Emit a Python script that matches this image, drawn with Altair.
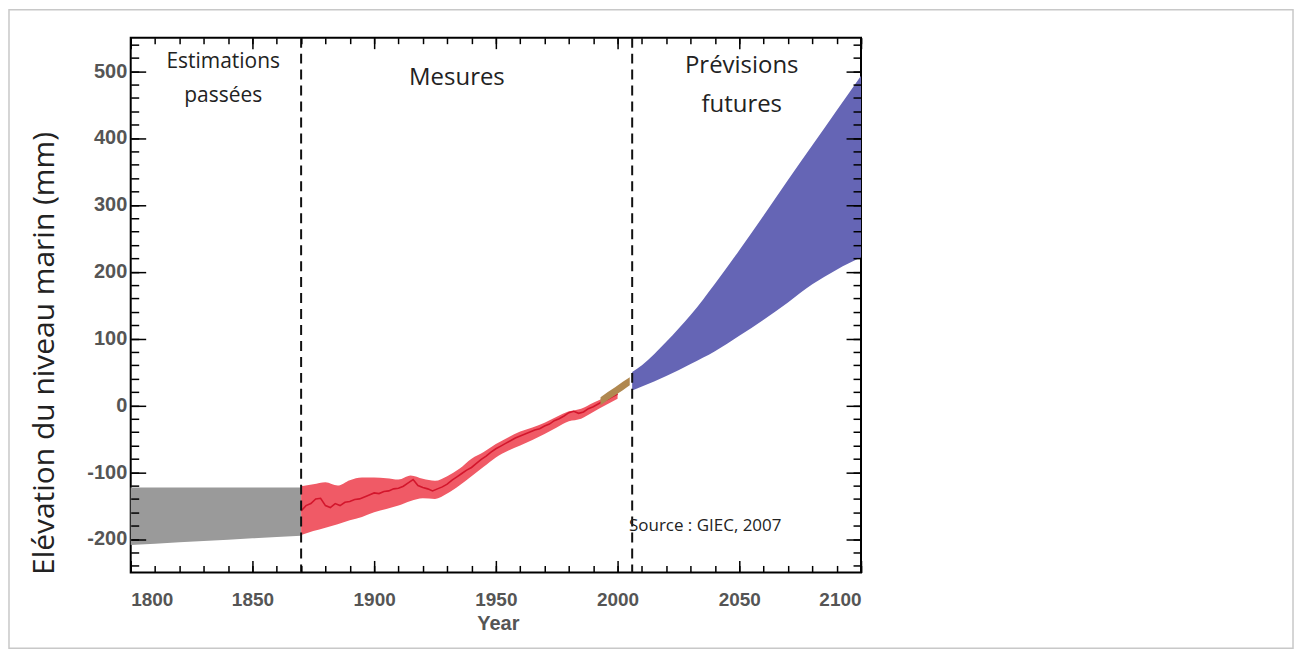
import altair as alt
import pandas as pd

# ---------------- data ----------------
gray_years = [1800, 1810, 1820, 1830, 1840, 1850, 1860, 1870]
gray_lo = [-209, -207, -205, -203, -201, -199, -197, -195]
gray_hi = [-123, -123, -123, -123, -123, -123, -123, -123]

band_years = [1870, 1875, 1880, 1885, 1890, 1895, 1900, 1905, 1910, 1915, 1920, 1925, 1930,
              1935, 1940, 1945, 1950, 1955, 1960, 1965, 1970, 1975, 1980, 1985, 1990, 1995, 2000]
band_hi = [-121, -118, -115, -120, -112, -108, -108, -109, -111, -105, -110, -113, -106,
           -95, -80, -70, -58, -48, -39, -33, -26, -17, -9, -5, 4, 12, 22]
band_lo = [-194, -188, -183, -178, -172, -167, -160, -155, -150, -143, -139, -140, -132,
           -120, -106, -92, -78, -68, -60, -52, -43, -33, -24, -20, -10, 0, 10]

line_years = list(range(1870, 2001, 2))
line_vals = [-158, -150, -147, -140, -139, -150, -153, -147, -150, -145, -144, -141, -140, -137,
             -134, -131, -132, -129, -128, -125, -124, -121, -116, -111, -120, -123, -125, -128,
             -125, -122, -118, -112, -107, -102, -97, -93, -87, -81, -76, -70, -65, -61, -57,
             -53, -49, -46, -43, -40, -37, -35, -31, -28, -23, -20, -16, -11, -9, -12, -10,
             -5, -2, 2, 6, 9, 13, 17]

sat_years = [1993, 1996, 1999, 2002, 2005]
sat_lo = [0, 8, 15, 22, 30]
sat_hi = [12, 20, 27, 35, 42]

proj_years = [2006, 2010, 2020, 2030, 2040, 2050, 2060, 2070, 2080, 2090, 2100]
proj_lo = [22, 28, 44, 62, 81, 104, 128, 154, 181, 203, 221]
proj_hi = [50, 60, 95, 135, 182, 232, 284, 337, 389, 441, 493]

divider_years = [1870, 2006]

x_major = [1800, 1850, 1900, 1950, 2000, 2050, 2100]
x_minor = list(range(1800, 2101, 10))
y_major = [-200, -100, 0, 100, 200, 300, 400, 500]
y_minor = list(range(-240, 551, 20))

labels_small = pd.DataFrame({
    "year": [1838, 1838],
    "val": [513, 462],
    "txt": ["Estimations", "passées"],
})
labels_future = pd.DataFrame({
    "year": [2051, 2051],
    "val": [507, 450],
    "txt": ["Prévisions", "futures"],
})
labels_mid = pd.DataFrame({"year": [1934], "val": [490], "txt": ["Mesures"]})
labels_src = pd.DataFrame({"year": [2036], "val": [-181], "txt": ["Source : GIEC, 2007"]})

gray_df = pd.DataFrame({"year": gray_years, "lo": gray_lo, "hi": gray_hi})
band_df = pd.DataFrame({"year": band_years, "lo": band_lo, "hi": band_hi})
line_df = pd.DataFrame({"year": line_years, "val": line_vals})
sat_df = pd.DataFrame({"year": sat_years, "lo": sat_lo, "hi": sat_hi})
proj_df = pd.DataFrame({"year": proj_years, "lo": proj_lo, "hi": proj_hi})
div_df = pd.DataFrame({"year": divider_years})

# ---------------- scales / axes ----------------
W, H = 732, 536
xs = alt.Scale(domain=[1800, 2100], nice=False, zero=False)
ys = alt.Scale(domain=[-250, 550], nice=False, zero=False)

LABEL_FONT = "Liberation Sans"
LABEL_COLOR = "#555555"


def tick_axis(orient, values, length):
    return alt.Axis(orient=orient, values=values, labels=False, domain=False, ticks=True,
                    tickSize=length, offset=-length, tickColor="black", tickWidth=1.5,
                    title=None, grid=False, zindex=2)


x_label_axis = alt.Axis(orient="bottom", values=x_major, ticks=False, domain=False,
                        labelFont=LABEL_FONT, labelFontWeight="bold", labelFontSize=19,
                        labelColor=LABEL_COLOR, labelPadding=18,
                        labelExpr="toString(datum.value)",
                        title="Year", titleFont=LABEL_FONT, titleFontWeight="bold",
                        titleFontSize=20, titleColor=LABEL_COLOR, titleX=368, titleY=51,
                        titleBaseline="middle", titleAlign="center", grid=False)
y_label_axis = alt.Axis(orient="left", values=y_major, ticks=False, domain=False,
                        labelFont=LABEL_FONT, labelFontWeight="bold", labelFontSize=20,
                        labelColor=LABEL_COLOR, labelPadding=4,
                        labelExpr="toString(datum.value)",
                        title="Elévation du niveau marin (mm)", titleFont="Open Sans",
                        titleFontWeight="normal", titleFontSize=30, titleColor="#222222",
                        titleAngle=-90, titleX=-86, titleY=316, titleBaseline="middle",
                        titleAlign="center", grid=False)

gray = alt.Chart(gray_df).mark_area(color="#9a9a9a", opacity=1).encode(
    x=alt.X("year:Q", scale=xs, axis=x_label_axis),
    y=alt.Y("lo:Q", scale=ys, axis=y_label_axis),
    y2="hi:Q",
)

band = alt.Chart(band_df).mark_area(color="#f05a66", opacity=1, interpolate="monotone").encode(
    x=alt.X("year:Q", scale=xs, axis=tick_axis("bottom", x_major, 12)),
    y=alt.Y("lo:Q", scale=ys, axis=tick_axis("left", y_major, 15)),
    y2="hi:Q",
)

line = alt.Chart(line_df).mark_line(color="#d3162c", strokeWidth=1.6).encode(
    x=alt.X("year:Q", scale=xs, axis=tick_axis("bottom", x_minor, 7)),
    y=alt.Y("val:Q", scale=ys, axis=tick_axis("left", y_minor, 8)),
)

sat = alt.Chart(sat_df).mark_area(color="#b08850", opacity=1).encode(
    x=alt.X("year:Q", scale=xs, axis=tick_axis("top", x_major, 11)),
    y=alt.Y("lo:Q", scale=ys, axis=tick_axis("right", y_major, 15)),
    y2="hi:Q",
)

proj = alt.Chart(proj_df).mark_area(color="#6565b5", opacity=1, interpolate="monotone").encode(
    x=alt.X("year:Q", scale=xs, axis=tick_axis("top", x_minor, 6)),
    y=alt.Y("lo:Q", scale=ys, axis=tick_axis("right", y_minor, 8)),
    y2="hi:Q",
)

dividers = alt.Chart(div_df).mark_rule(color="#111111", strokeWidth=2, strokeDash=[10, 6]).encode(
    x=alt.X("year:Q", scale=xs, axis=None),
)


def text_layer(df, size):
    return alt.Chart(df).mark_text(font="Open Sans", fontSize=size, color="#222222",
                                   baseline="middle", align="center").encode(
        x=alt.X("year:Q", scale=xs, axis=None),
        y=alt.Y("val:Q", scale=ys, axis=None),
        text="txt:N",
    )


txt_small = text_layer(labels_small, 21)
txt_future = text_layer(labels_future, 24)
txt_mid = text_layer(labels_mid, 24)
txt_src = text_layer(labels_src, 17)

frame = alt.Chart(pd.DataFrame({"k": [0]})).mark_rect(
    filled=False, stroke="#c8c8c8", strokeWidth=1.5
).encode(
    x=alt.value(-122), x2=alt.value(1165), y=alt.value(-28), y2=alt.value(612),
)

chart = alt.layer(
    gray, band, line, sat, proj, dividers, txt_small, txt_future, txt_mid, txt_src, frame
).resolve_axis(
    x="independent", y="independent"
).properties(
    width=W, height=H, padding=0, background="white"
).configure_view(
    stroke="black", strokeWidth=2
).configure_axis(grid=False)

chart.save("out.html", embed_options={"renderer": "svg", "actions": False})
